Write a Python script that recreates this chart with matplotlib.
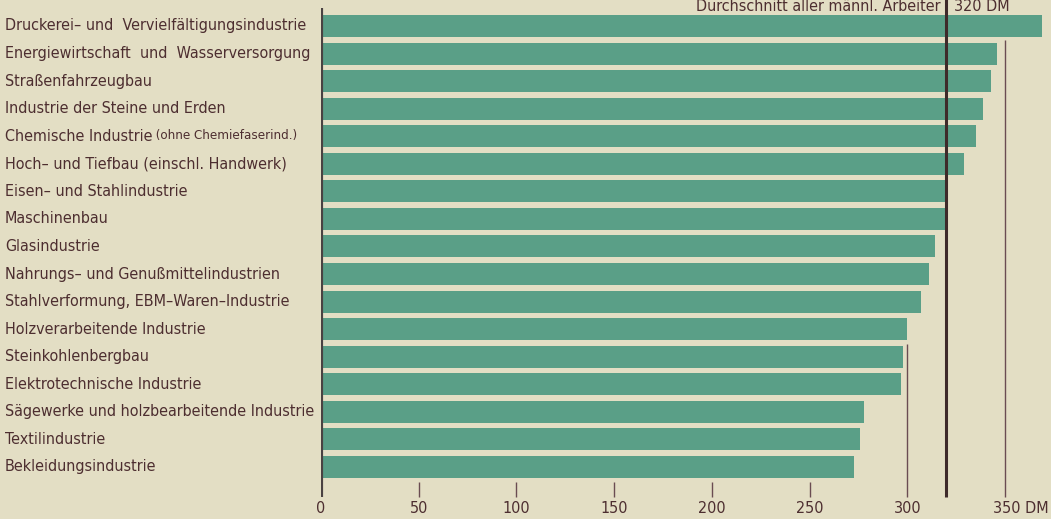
import matplotlib.pyplot as plt
import matplotlib.transforms as mtransforms

# Monatlicher Bruttoverdienst männlicher Arbeiter nach Industriezweigen (DM)
branchen = [
    'Druckerei\u2013 und  Vervielfältigungsindustrie',
    'Energiewirtschaft  und  Wasserversorgung',
    'Straßenfahrzeugbau',
    'Industrie der Steine und Erden',
    'Chemische Industrie',
    'Hoch\u2013 und Tiefbau (einschl. Handwerk)',
    'Eisen\u2013 und Stahlindustrie',
    'Maschinenbau',
    'Glasindustrie',
    'Nahrungs\u2013 und Genußmittelindustrien',
    'Stahlverformung, EBM\u2013Waren\u2013Industrie',
    'Holzverarbeitende Industrie',
    'Steinkohlenbergbau',
    'Elektrotechnische Industrie',
    'Sägewerke und holzbearbeitende Industrie',
    'Textilindustrie',
    'Bekleidungsindustrie',
]
verdienst = [369, 346, 343, 339, 335, 329, 321, 321, 314, 311, 307, 300, 298, 297, 278, 276, 273]
zusatz = {4: ' (ohne Chemiefaserind.)'}
durchschnitt = 320
ticks = [0, 50, 100, 150, 200, 250, 300, 350]

BG = '#e3dec4'
BAR = '#5a9f87'
INK = '#4d2e30'
LINE = '#6a4c52'

plt.rcParams['font.family'] = ['DejaVu Sans']
plt.rcParams['font.stretch'] = 'condensed'
FS = 11.5


def main():
    fig = plt.figure(figsize=(10.51, 5.19), dpi=100, facecolor=BG)
    ax = fig.add_axes([321 / 1051, 0, 730 / 1051, 1])
    ax.set_facecolor(BG)
    ax.set_xlim(0, 730 / 1.954)
    ax.set_ylim(17.89, -0.943)
    ax.axis('off')

    n = len(branchen)
    pos = list(range(n))
    ax.barh(pos, verdienst, height=0.8, color=BAR, zorder=2)

    bottom = 17.09
    # Achse bei 0
    ax.vlines(0, -0.65, bottom, color='#4a4242', lw=3, zorder=3)
    # Durchschnittslinie
    ax.vlines(durchschnitt, -1, bottom, color='#3e2a2a', lw=2.2, zorder=3)
    ax.vlines(300, 11.54, bottom, color=LINE, lw=1, zorder=1)
    ax.vlines(350, 0.51, bottom, color=LINE, lw=1, zorder=1)
    ax.vlines(ticks[1:6], 16.55, bottom, color=LINE, lw=1, zorder=1)

    for t in ticks[:-1]:
        ax.text(t, 17.5, str(t), ha='center', va='center', fontsize=FS, color=INK)
    ax.text(344, 17.5, '350 DM', ha='left', va='center', fontsize=FS, color=INK)

    ax.text(durchschnitt - 3, -0.56, 'Durchschnitt aller männl. Arbeiter',
            ha='right', va='baseline', fontsize=FS, color=INK)
    ax.text(durchschnitt + 4, -0.56, '320 DM', ha='left', va='baseline',
            fontsize=FS, color=INK)

    trans = mtransforms.blended_transform_factory(fig.transFigure, ax.transData)
    for i, name in enumerate(branchen):
        t = ax.text(5 / 1051, i, name, transform=trans, ha='left', va='center',
                    fontsize=FS, color=INK)
        if i in zusatz:
            ax.annotate(zusatz[i], xy=(1, 0.12), xycoords=t, ha='left',
                        va='bottom', fontsize=FS - 2, color=INK)

    fig.savefig('out.png', dpi=100, facecolor=BG)


if __name__ == '__main__':
    main()
